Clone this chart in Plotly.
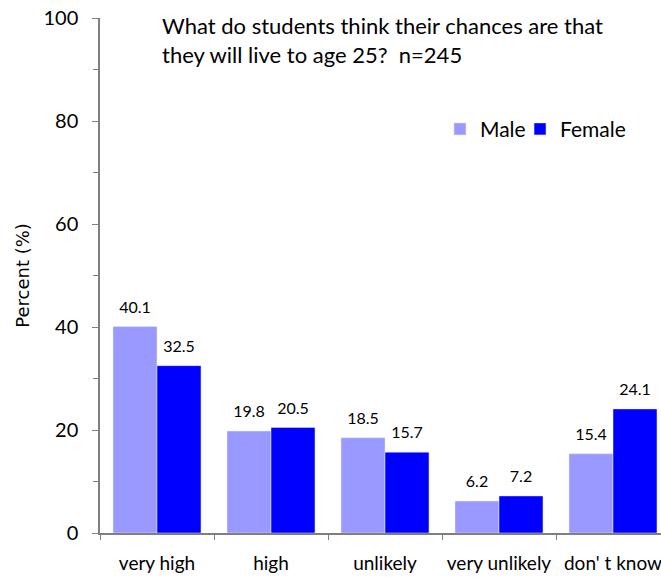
import plotly.graph_objects as go

categories = ["very high", "high", "unlikely", "very unlikely", "don' t know"]
male = [40.1, 19.8, 18.5, 6.2, 15.4]
female = [32.5, 20.5, 15.7, 7.2, 24.1]
title_lines = ["What do students think their chances are that",
               "they will live to age 25?  n=245"]

FONT = "Lato, 'Open Sans', sans-serif"
AXIS_COLOR = "#7f7f7f"
GAP = 0.228

fig = go.Figure()
for name, vals, col, lg in [("Male", male, "#9999ff", "legend"),
                            ("Female", female, "#0000ff", "legend2")]:
    fig.add_trace(go.Bar(name=name, x=categories, y=vals, marker_color=col,
                         offsetgroup=name, legend=lg))
for name, vals in [("Male", male), ("Female", female)]:
    fig.add_trace(go.Scatter(
        x=categories, y=vals, mode="markers+text", offsetgroup=name,
        text=[f"{v:.1f}" for v in vals], textposition="top center",
        textfont=dict(size=16, color="black", family=FONT),
        marker=dict(size=14, color="rgba(0,0,0,0)"),
        showlegend=False, hoverinfo="skip", cliponaxis=False,
    ))

legend_style = dict(orientation="h", y=0.784, xanchor="left", yanchor="middle",
                    font=dict(size=21), bgcolor="rgba(0,0,0,0)")

fig.update_layout(
    width=661, height=577,
    margin=dict(l=100, r=0, t=18, b=44),
    paper_bgcolor="white", plot_bgcolor="white",
    font=dict(family=FONT, color="black"),
    barmode="group", bargap=GAP, bargroupgap=0,
    scattermode="group", scattergap=GAP,
    showlegend=True,
    legend=dict(x=0.606, **legend_style),
    legend2=dict(x=0.7487, **legend_style),
    annotations=[dict(
        text="<br>".join(title_lines), xref="paper", yref="paper",
        x=(160 - 100) / 561, y=1.0 + 8 / 515, xanchor="left", yanchor="top", align="left",
        showarrow=False, font=dict(size=22, color="black", family=FONT),
    )],
)

fig.update_xaxes(
    range=[-0.5, -0.5 + 561 / 114],
    showline=True, linecolor=AXIS_COLOR, linewidth=1.5,
    ticks="outside", tickson="boundaries", ticklen=5, tickcolor=AXIS_COLOR,
    tickfont=dict(size=19, color="black"), ticklabelstandoff=12,
    showgrid=False, zeroline=False,
)
fig.update_yaxes(
    range=[0, 100], dtick=20, tick0=0,
    showline=True, linecolor=AXIS_COLOR, linewidth=1.5,
    ticks="outside", ticklen=6, tickcolor=AXIS_COLOR,
    minor=dict(dtick=10, ticks="outside", ticklen=5, tickcolor=AXIS_COLOR, showgrid=False),
    tickfont=dict(size=20, color="black"), ticklabelstandoff=10,
    showgrid=False, zeroline=False,
    title=dict(text="Percent (%)", font=dict(size=18, color="black", family="'DejaVu Sans', sans-serif"), standoff=9),
)

fig.write_html("out.html", config={"displayModeBar": False},
               post_script="document.body.style.margin='0';document.body.style.overflow='hidden';")
